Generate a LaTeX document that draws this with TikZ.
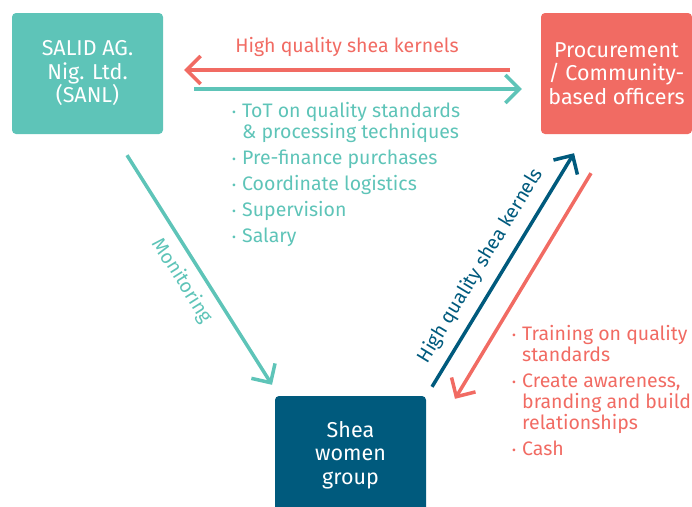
\documentclass[tikz,border=0pt]{standalone}
\usepackage{fontspec}
\setmainfont{Fira Sans}
\usetikzlibrary{arrows.meta,calc}
\definecolor{teal1}{HTML}{5EC4B8}
\definecolor{coral}{HTML}{F16B63}
\definecolor{navy}{HTML}{005A7D}
\newcommand\bul{\makebox[10pt][l]{\raisebox{1pt}{\fontsize{12}{12}\selectfont •}}}
\newcommand\ind{\hspace*{10pt}}
\begin{document}
\begin{tikzpicture}[x=1pt,y=1pt,
  box/.style={rounded corners=4pt, minimum width=151pt, minimum height=121pt, text=white, align=center, inner sep=0pt, font=\fontsize{21.5}{23.5}\selectfont},
  arr/.style={line width=3.5pt, -{Straight Barb[length=14pt,width=28pt]}},
  lbl/.style={font=\fontsize{19.5}{21}\selectfont, inner sep=0pt},
  lst/.style={font=\fontsize{19.5}{21}\selectfont, inner sep=0pt, align=left}]
\useasboundingbox (0,0) rectangle (692,-506);
\node[box, fill=teal1] (sanl) at (87.5,-73.5) {SALID AG.\\Nig. Ltd.\\(SANL)};
\node[box, fill=coral] (proc) at (616.5,-73.5) {Procurement\\/ Community-\\based officers};
\node[box, fill=navy, minimum height=118pt] (shea) at (350.5,-455) {Shea\\women\\group};
% top arrows
\draw[arr, coral, shorten <=31pt, shorten >=21pt] ([yshift=3.5pt]proc.west) -- ([yshift=3.5pt]sanl.east);
\draw[arr, teal1, shorten <=31pt, shorten >=19pt] ([yshift=-15.5pt]sanl.east) -- ([yshift=-15.5pt]proc.west);
\node[lbl, text=coral] (toplbl) at (347,-47) {High quality shea kernels};
\node[lst, text=teal1, anchor=north west] (tlist) at (232,-102) {\bul ToT on quality standards\\ \ind\& processing techniques\\[5pt]
\bul Pre-finance purchases\\[5pt] \bul Coordinate logistics\\[5pt] \bul Supervision\\[5pt] \bul Salary};
% monitoring
\draw[arr, teal1] ($(sanl.south)+(39.5,-21)$) -- node[lbl, text=teal1, sloped, below=9pt, pos=0.5] {Monitoring} ($(shea.north)+(-78.5,11)$);
% blue
\draw[arr, navy] ($(shea.north)+(81.5,9)$) -- node[lbl, text=navy, sloped, above=10pt, pos=0.47] {High quality shea kernels} ($(proc.south)+(-42.5,-19)$);
% red diagonal
\draw[arr, coral] ($(proc.south)+(-25.5,-39)$) -- ($(shea.north)+(104.5,-3)$);
\node[lst, text=coral, anchor=north west] (rlist) at (512,-325.5) {\bul Training on quality\\ \ind standards\\[5pt]
\bul Create awareness,\\ \ind branding and build\\ \ind relationships\\[5pt] \bul Cash};
\end{tikzpicture}
\end{document}
